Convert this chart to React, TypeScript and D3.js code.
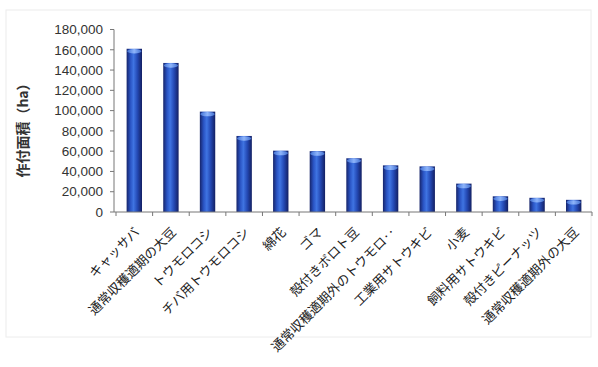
import React from "react";
import * as d3 from "d3";

const categories = [
  "キャッサバ",
  "通常収穫適期の大豆",
  "トウモロコシ",
  "チバ用トウモロコシ",
  "綿花",
  "ゴマ",
  "殻付きボロト豆",
  "通常収穫適期外のトウモロ‥",
  "工業用サトウキビ",
  "小麦",
  "飼料用サトウキビ",
  "殻付きピーナッツ",
  "通常収穫適期外の大豆",
];
const values = [161000, 147000, 99000, 75000, 60500, 60000, 53000, 46000, 45000, 28000, 15500, 14000, 12000];
const yTicks = [0, 20000, 40000, 60000, 80000, 100000, 120000, 140000, 160000, 180000];
const yTitle = "作付面積（ha）";

const W = 598;
const H = 367;

export default function App() {
  const x = d3.scaleBand<string>().domain(categories).range([116, 592]).paddingInner(0.58).paddingOuter(0.29);
  const y = d3.scaleLinear().domain([0, 180000]).range([212, 29.5]);
  const fmt = d3.format(",");
  const axisX = 114;
  const baseY = y(0);
  const step = x.step();
  const bounds = d3.range(categories.length + 1).map((i) => 116 + i * step);

  return (
    <svg width={W} height={H} style={{ position: "absolute", left: 0, top: 0, background: "#fff" }}>
      <defs>
        <linearGradient id="barG" x1="0" x2="1" y1="0" y2="0">
          <stop offset="0%" stopColor="#16246a" />
          <stop offset="25%" stopColor="#2a54c4" />
          <stop offset="45%" stopColor="#3f74e2" />
          <stop offset="70%" stopColor="#2449b4" />
          <stop offset="100%" stopColor="#131f62" />
        </linearGradient>
        <linearGradient id="capG" x1="0" x2="1" y1="0" y2="0">
          <stop offset="0%" stopColor="#4a7ee0" />
          <stop offset="50%" stopColor="#9cc0ff" />
          <stop offset="100%" stopColor="#4a7ee0" />
        </linearGradient>
      </defs>
      <rect x={6} y={10} width={585} height={327} fill="none" stroke="#ececec" strokeWidth={1} />
      {categories.map((c, i) => {
        const bx = x(c)!;
        const bw = x.bandwidth();
        const top = y(values[i]);
        return (
          <g key={c}>
            <rect x={bx} y={top} width={bw} height={baseY - top} fill="url(#barG)" />
            <ellipse cx={bx + bw / 2} cy={top + 2.5} rx={bw / 2 - 0.5} ry={2.2} fill="url(#capG)" opacity={0.85} />
          </g>
        );
      })}
      <line x1={axisX} x2={axisX} y1={y(180000)} y2={baseY} stroke="#777" strokeWidth={1} />
      {yTicks.map((t) => (
        <g key={t}>
          <line x1={axisX - 4} x2={axisX} y1={y(t)} y2={y(t)} stroke="#777" />
          <text
            x={axisX - 11}
            y={y(t)}
            dy="0.35em"
            textAnchor="end"
            fontFamily="Liberation Sans, Arial, sans-serif"
            fontSize={13.5}
            fill="#333"
          >
            {fmt(t)}
          </text>
        </g>
      ))}
      <line x1={axisX} x2={592} y1={baseY} y2={baseY} stroke="#777" strokeWidth={1} />
      {bounds.map((b, i) => (
        <line key={i} x1={b} x2={b} y1={baseY} y2={baseY + 4} stroke="#777" />
      ))}
      {categories.map((c) => {
        const cx = x(c)! + x.bandwidth() / 2;
        return (
          <text
            key={c}
            transform={`translate(${cx + 6},${baseY + 21}) rotate(-45)`}
            textAnchor="end"
            fontFamily="Noto Sans CJK JP, sans-serif"
            fontSize={13}
            fill="#222"
          >
            {c}
          </text>
        );
      })}
      <text
        transform={`translate(28,127) rotate(-90)`}
        textAnchor="middle"
        fontFamily="Noto Sans CJK JP, sans-serif"
        fontSize={14}
        fontWeight="bold"
        fill="#333"
      >
        {yTitle}
      </text>
    </svg>
  );
}
